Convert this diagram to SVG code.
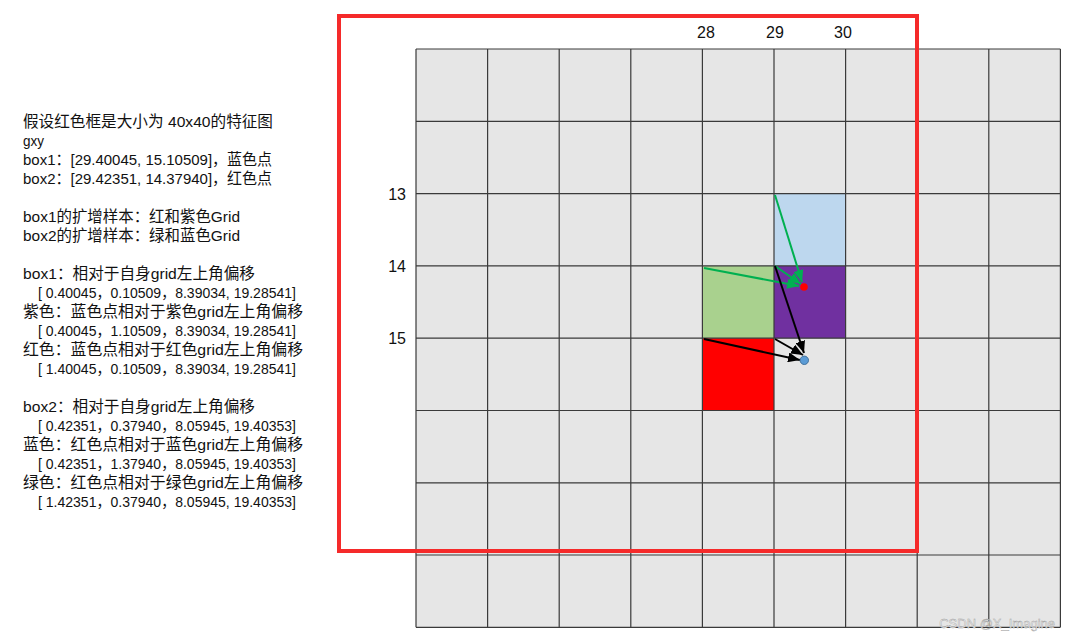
<svg xmlns="http://www.w3.org/2000/svg" width="1071" height="641" viewBox="0 0 1071 641">
<style>
.t{font-family:"Liberation Sans","Noto Sans CJK SC",sans-serif;font-size:15.5px;fill:#111}
.n{font-family:"Liberation Sans",sans-serif;font-size:16px;fill:#111}
.g{stroke:#3a3a3a;stroke-width:1.2;fill:none}
.ag{stroke:#00B050;stroke-width:2;fill:none}
.ak{stroke:#000;stroke-width:2;fill:none}
</style>
<defs>
<marker id="mg" markerUnits="userSpaceOnUse" markerWidth="13" markerHeight="10" refX="12" refY="5" orient="auto"><path d="M0,0 L12,5 L0,10 Z" fill="#00B050"/></marker>
<marker id="mk" markerUnits="userSpaceOnUse" markerWidth="13" markerHeight="10" refX="12" refY="5" orient="auto"><path d="M0,0 L12,5 L0,10 Z" fill="#000"/></marker>
</defs>
<rect width="1071" height="641" fill="#fff"/>
<g id="text-block">
<text class="t" x="23" y="127" textLength="250" lengthAdjust="spacingAndGlyphs">假设红色框是大小为 40x40的特征图</text>
<text class="t" x="23" y="146" textLength="21" lengthAdjust="spacingAndGlyphs">gxy</text>
<text class="t" x="23" y="165" textLength="249" lengthAdjust="spacingAndGlyphs">box1：[29.40045, 15.10509]，蓝色点</text>
<text class="t" x="23" y="184" textLength="249" lengthAdjust="spacingAndGlyphs">box2：[29.42351, 14.37940]，红色点</text>
<text class="t" x="23" y="222" textLength="217" lengthAdjust="spacingAndGlyphs">box1的扩增样本：红和紫色Grid</text>
<text class="t" x="23" y="241" textLength="217" lengthAdjust="spacingAndGlyphs">box2的扩增样本：绿和蓝色Grid</text>
<text class="t" x="23" y="279" textLength="232" lengthAdjust="spacingAndGlyphs">box1：相对于自身grid左上角偏移</text>
<text class="t" x="38" y="298" textLength="258" lengthAdjust="spacingAndGlyphs">[ 0.40045，0.10509，8.39034, 19.28541]</text>
<text class="t" x="23" y="317" textLength="280" lengthAdjust="spacingAndGlyphs">紫色：蓝色点相对于紫色grid左上角偏移</text>
<text class="t" x="38" y="336" textLength="258" lengthAdjust="spacingAndGlyphs">[ 0.40045，1.10509，8.39034, 19.28541]</text>
<text class="t" x="23" y="355" textLength="280" lengthAdjust="spacingAndGlyphs">红色：蓝色点相对于红色grid左上角偏移</text>
<text class="t" x="38" y="374" textLength="258" lengthAdjust="spacingAndGlyphs">[ 1.40045，0.10509，8.39034, 19.28541]</text>
<text class="t" x="23" y="412" textLength="232" lengthAdjust="spacingAndGlyphs">box2：相对于自身grid左上角偏移</text>
<text class="t" x="38" y="431" textLength="258" lengthAdjust="spacingAndGlyphs">[ 0.42351，0.37940，8.05945, 19.40353]</text>
<text class="t" x="23" y="450" textLength="280" lengthAdjust="spacingAndGlyphs">蓝色：红色点相对于蓝色grid左上角偏移</text>
<text class="t" x="38" y="469" textLength="258" lengthAdjust="spacingAndGlyphs">[ 0.42351，1.37940，8.05945, 19.40353]</text>
<text class="t" x="23" y="488" textLength="280" lengthAdjust="spacingAndGlyphs">绿色：红色点相对于绿色grid左上角偏移</text>
<text class="t" x="38" y="507" textLength="258" lengthAdjust="spacingAndGlyphs">[ 1.42351，0.37940，8.05945, 19.40353]</text>
</g>
<g id="grid">
<rect x="416" y="49" width="644.4" height="578.3" fill="#E6E6E6"/>
<rect id="cell-blue" x="774" y="193.6" width="71.6" height="72.3" fill="#BDD7EE"/>
<rect id="cell-purple" x="774" y="265.9" width="71.6" height="72.3" fill="#7030A0"/>
<rect id="cell-green" x="702.4" y="265.9" width="71.6" height="72.3" fill="#A9D18E"/>
<rect id="cell-red" x="702.4" y="338.2" width="71.6" height="72.3" fill="#FF0000"/>
<path class="g" d="M416,49V627.3M487.6,49V627.3M559.2,49V627.3M630.8,49V627.3M702.4,49V627.3M774,49V627.3M845.6,49V627.3M917.2,49V627.3M988.8,49V627.3M1060.4,49V627.3M416,49H1060.4M416,121.3H1060.4M416,193.6H1060.4M416,265.9H1060.4M416,338.2H1060.4M416,410.5H1060.4M416,482.8H1060.4M416,555H1060.4M416,627.3H1060.4"/>
</g>
<g id="feature-map-frame">
<rect x="339" y="16" width="578" height="535" fill="none" stroke="#F52A2A" stroke-width="4"/>
</g>
<g id="axis-labels">
<text class="n" x="706" y="38" text-anchor="middle">28</text>
<text class="n" x="775" y="38" text-anchor="middle">29</text>
<text class="n" x="843" y="38" text-anchor="middle">30</text>
<text class="n" x="406" y="200" text-anchor="end">13</text>
<text class="n" x="406" y="272" text-anchor="end">14</text>
<text class="n" x="406" y="344" text-anchor="end">15</text>
</g>
<g id="connectors">
<path class="ag" d="M775,195L802,282" marker-end="url(#mg)"/>
<path class="ag" d="M775,266L801,284" marker-end="url(#mg)"/>
<path class="ag" d="M704,268L799,286" marker-end="url(#mg)"/>
<path class="ak" d="M775,266L804,353" marker-end="url(#mk)"/>
<path class="ak" d="M775,339L803,355" marker-end="url(#mk)"/>
<path class="ak" d="M704,339L800,360" marker-end="url(#mk)"/>
</g>
<g id="points">
<circle id="red-point" cx="804" cy="287" r="3.8" fill="#FF0000"/>
<circle id="blue-point" cx="804.3" cy="360.3" r="4.2" fill="#5B9BD5" stroke="#41719C" stroke-width="1"/>
</g>
<text x="1055" y="628" text-anchor="end" font-family="Liberation Sans, sans-serif" font-size="13" fill="#f4f4f4" stroke="#9a9a9a" stroke-width="0.4">CSDN @X_Imagine</text>
</svg>
